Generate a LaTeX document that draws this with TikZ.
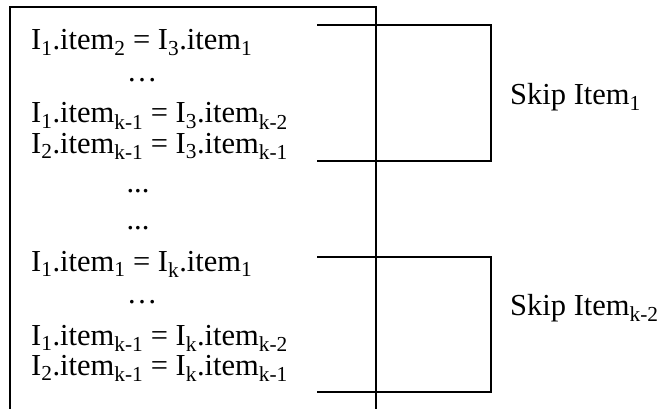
\documentclass[tikz,border=0pt]{standalone}
\usepackage{fontspec}
\setmainfont{Liberation Serif}
\usetikzlibrary{positioning}

\begin{document}
\begin{tikzpicture}[
    x=1pt, y=-1pt,
    eqline/.style={anchor=base west, inner sep=0pt, font=\fontsize{30.5}{36}\selectfont},
    gap/.style={anchor=base, inner sep=0pt, font=\fontsize{30.5}{36}\selectfont},
    skiplabel/.style={anchor=base west, inner sep=0pt, font=\fontsize{30.5}{36}\selectfont},
    frame/.style={draw=black, line width=1.3pt}
]
\useasboundingbox (0,0) rectangle (666,409);

% Box (open at the bottom)
\coordinate (bl) at (10,409);
\coordinate (tl) at (10,7);
\coordinate (tr) at (376,7);
\coordinate (br) at (376,409);
\draw[frame] (bl) -- (tl) -- (tr) -- (br);

% Equalities
\node[eqline] (e1) at (31,50) {I\textsubscript{1}.item\textsubscript{2} = I\textsubscript{3}.item\textsubscript{1}};
\node[gap] (d1) at (142,82) {…};
\node[eqline] (e2) at (31,123) {I\textsubscript{1}.item\textsubscript{k-1} = I\textsubscript{3}.item\textsubscript{k-2}};
\node[gap] (d2) at (138,192) {...};
\node[eqline] (e3) at (31,153) {I\textsubscript{2}.item\textsubscript{k-1} = I\textsubscript{3}.item\textsubscript{k-1}};
\node[gap] (d3) at (138,229) {...};
\node[eqline] (e4) at (31,271) {I\textsubscript{1}.item\textsubscript{1} = I\textsubscript{k}.item\textsubscript{1}};
\node[gap] (d4) at (142,303) {…};
\node[eqline] (e5) at (31,345) {I\textsubscript{1}.item\textsubscript{k-1} = I\textsubscript{k}.item\textsubscript{k-2}};
\node[eqline] (e6) at (31,375) {I\textsubscript{2}.item\textsubscript{k-1} = I\textsubscript{k}.item\textsubscript{k-1}};

% Brackets
\coordinate (s1a) at (317,25);
\coordinate (s1b) at (491,25);
\coordinate (s1c) at (317,161);
\coordinate (s2a) at (317,257);
\coordinate (s2b) at (491,257);
\coordinate (s2c) at (317,392);
\draw[frame] (s1a) -- (s1b) |- (s1c);
\draw[frame] (s2a) -- (s2b) |- (s2c);

\node[skiplabel] (skip1) at (510,105) {Skip Item\textsubscript{1}};
\node[skiplabel] (skip2) at (510,315) {Skip Item\textsubscript{k-2}};

\end{tikzpicture}
\end{document}
